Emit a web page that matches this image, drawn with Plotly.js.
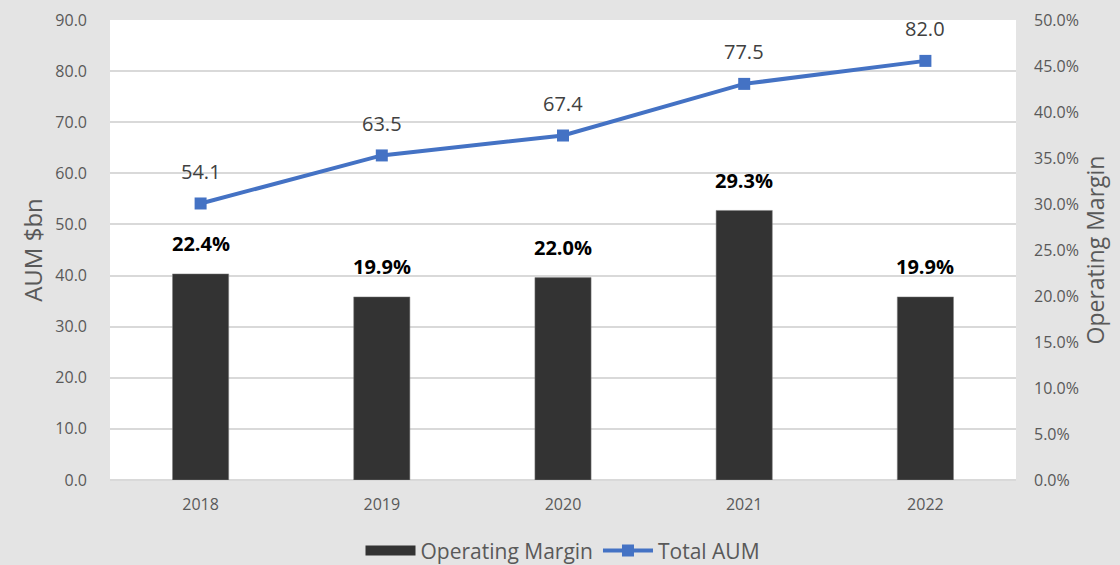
<!DOCTYPE html>
<html><head><meta charset="utf-8">
<script src="https://cdn.plot.ly/plotly-3.0.1.min.js"></script>
<style>body{margin:0;background:#e4e4e4}</style>
</head><body>
<div id="chart" style="width:1120px;height:565px"></div>
<script>
const years = ['2018','2019','2020','2021','2022'];
const operatingMargin = [0.224, 0.199, 0.220, 0.293, 0.199];
const totalAUM = [54.1, 63.5, 67.4, 77.5, 82.0];

const font = '"Open Sans", sans-serif';
const grey = '#595959';
const barColor = '#333333';

const traces = [
  {type:'bar', name:'Operating Margin', x:years, y:operatingMargin, yaxis:'y2',
   marker:{color:barColor, line:{color:'#7f7f7f', width:0.5}}, width:0.31, hoverinfo:'skip', showlegend:false},
  // legend entry for the bars (wide dark swatch as in the reference)
  {type:'scatter', mode:'lines', name:'Operating Margin', x:[null], y:[null],
   line:{color:barColor, width:13}, showlegend:true, hoverinfo:'skip'},
  {type:'scatter', mode:'lines+markers', name:'Total AUM', x:years, y:totalAUM,
   line:{color:'#4472C4', width:4}, marker:{symbol:'square', size:12, color:'#4472C4'}}
];

const annotations = [];
years.forEach((yr,i)=>{
  annotations.push({x:i, y:totalAUM[i], xref:'x', yref:'y', text:totalAUM[i].toFixed(1),
    showarrow:false, yshift:32, font:{family:font, size:20, color:'#404040'}});
  annotations.push({x:i, y:operatingMargin[i], xref:'x', yref:'y2', text:(operatingMargin[i]*100).toFixed(1)+'%',
    showarrow:false, yshift:30, font:{family:font, size:20, color:'#000000', weight:'bold'}});
});

const layout = {
  width:1120, height:565,
  margin:{l:110, r:104, t:20, b:85},
  paper_bgcolor:'#e4e4e4', plot_bgcolor:'#ffffff',
  font:{family:font, color:grey},
  showlegend:true,
  legend:{orientation:'h', x:0.5, xanchor:'center', xref:'paper', y:0.025, yref:'container', yanchor:'middle',
    font:{family:font, size:21, color:grey}, bgcolor:'rgba(0,0,0,0)', itemwidth:50, tracegroupgap:0},
  xaxis:{type:'category', range:[-0.5,4.5], autorange:false, automargin:false, tickfont:{size:16, color:grey},
    showgrid:false, zeroline:false, ticks:'', ticklen:0, showline:false, ticklabelstandoff:13},
  yaxis:{range:[0,90], dtick:10, tickformat:'.1f', tickfont:{size:16, color:grey}, automargin:false,
    gridcolor:'#d9d9d9', gridwidth:1.5, zeroline:true, zerolinecolor:'#d9d9d9', zerolinewidth:1.5,
    title:{text:'AUM $bn', font:{size:24, color:grey}, standoff:5}, ticklabelstandoff:22},
  yaxis2:{range:[0,0.5], dtick:0.05, tickformat:'.1%', overlaying:'y', side:'right', automargin:false,
    showgrid:false, zeroline:false, tickfont:{size:16, color:grey},
    title:{text:'Operating Margin', font:{size:23, color:grey}, standoff:10}, ticklabelstandoff:17},
  annotations:annotations
};

Plotly.newPlot('chart', traces, layout, {displayModeBar:false});
</script>
</body></html>
